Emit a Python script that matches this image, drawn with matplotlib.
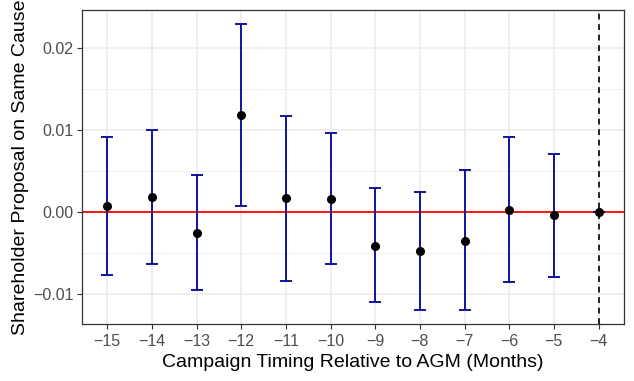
import matplotlib
matplotlib.use('Agg')
import matplotlib.pyplot as plt
import numpy as np
from matplotlib.ticker import MultipleLocator

# 数据：相对 AGM 的月份、估计值与置信区间
months = [-15, -14, -13, -12, -11, -10, -9, -8, -7, -6, -5, -4]
estimate = [0.0007, 0.0018, -0.0025, 0.0118, 0.0017, 0.0016, -0.0041, -0.0048, -0.0035, 0.0003, -0.0004, 0.0]
ci_upper = [0.0091, 0.0100, 0.00455, 0.0229, 0.01175, 0.0096, 0.0029, 0.0024, 0.0051, 0.0092, 0.0071, 0.0]
ci_lower = [-0.0077, -0.0063, -0.0095, 0.00077, -0.0084, -0.0063, -0.0110, -0.0120, -0.0120, -0.0085, -0.0079, 0.0]

plt.rcParams['font.family'] = ['Liberation Sans', 'DejaVu Sans']


def draw():
    fig = plt.figure(figsize=(6.34, 3.81), dpi=100)
    ax = fig.add_axes([0.1289, 0.1496, 0.8553, 0.8254])

    x = np.array(months)
    y = np.array(estimate)
    yerr = np.vstack((y - np.array(ci_lower), np.array(ci_upper) - y))

    # 网格
    ax.set_axisbelow(True)
    ax.yaxis.set_major_locator(MultipleLocator(0.01))
    ax.yaxis.set_minor_locator(MultipleLocator(0.005))
    ax.set_xticks(months)
    ax.grid(which='major', color='#EBEBEB', linewidth=1.1)
    ax.grid(which='minor', axis='y', color='#EBEBEB', linewidth=0.55)

    ax.axhline(0, color='red', linewidth=1.3, zorder=2)
    ax.axvline(-4, color='black', linewidth=1.2, dashes=(3.5, 2.8), zorder=2)

    ax.errorbar(x, y, yerr=yerr, fmt='none', ecolor='#000099', elinewidth=1.3,
                capsize=4.5, capthick=1.3, zorder=3)
    ax.plot(x, y, 'o', color='black', markersize=5.5, zorder=4)

    ax.set_xlim(-15.57, -3.43)
    ax.set_ylim(-0.01366, 0.0247)

    ax.set_yticks([-0.01, 0.0, 0.01, 0.02])
    ax.set_yticklabels(['\u22120.01', '0.00', '0.01', '0.02'])
    ax.set_xticklabels(['\u2212%d' % abs(m) for m in months])

    ax.tick_params(which='major', length=3.5, width=0.8, color='#333333',
                   labelcolor='#4D4D4D', labelsize=11.5, pad=2.5)
    ax.tick_params(axis='x', pad=3.5)
    ax.tick_params(which='minor', length=0)
    for s in ax.spines.values():
        s.set_color('#333333')
        s.set_linewidth(0.9)

    ax.set_xlabel('Campaign Timing Relative to AGM (Months)', fontsize=14, labelpad=3.5)
    ax.set_ylabel('Shareholder Proposal on Same Cause', fontsize=14, labelpad=3)

    fig.savefig('out.png', dpi=100)


if __name__ == '__main__':
    draw()
